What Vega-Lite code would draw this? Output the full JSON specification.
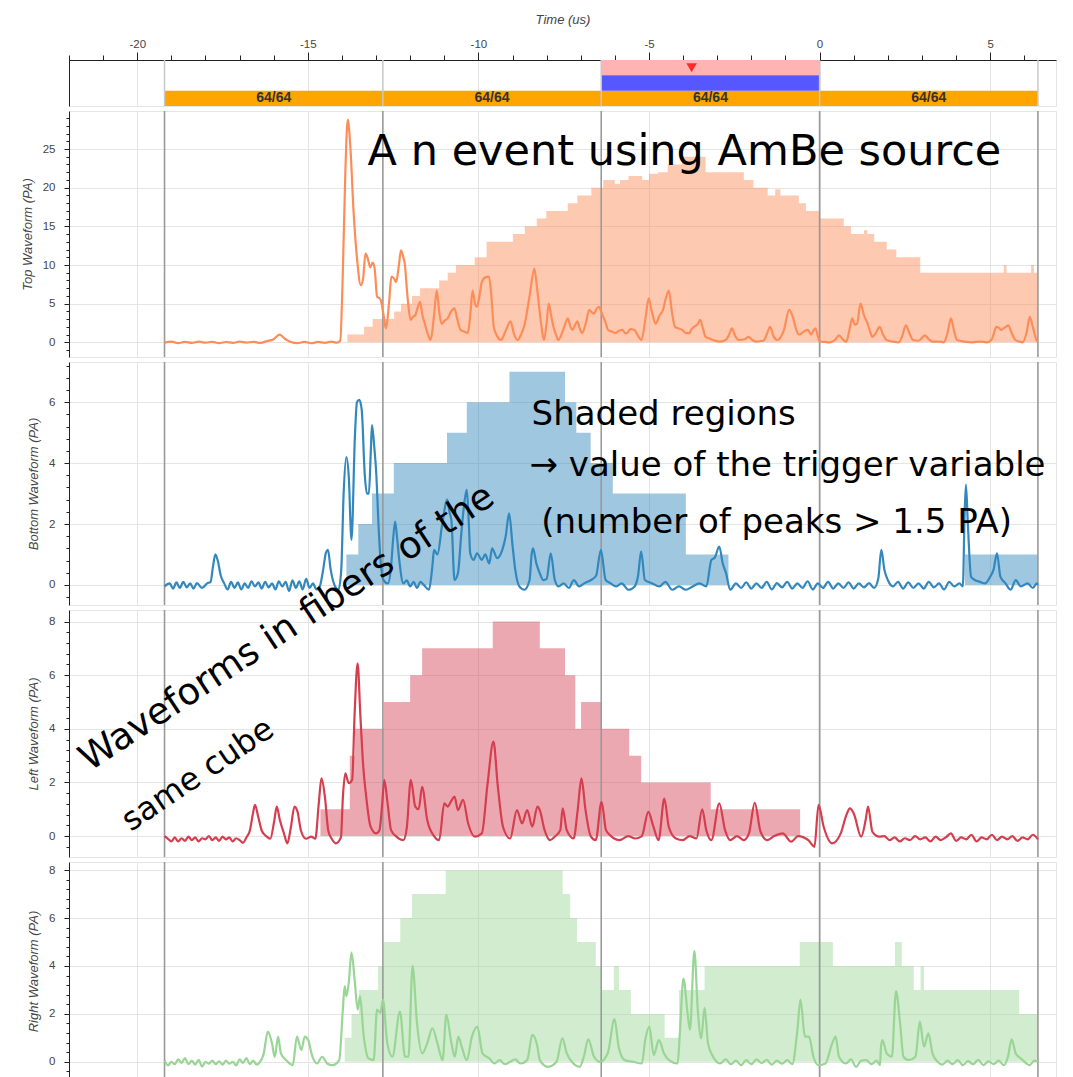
{
"$schema": "https://vega.github.io/schema/vega-lite/v6.json",
"padding": {"left": 20, "top": 12, "right": 0, "bottom": 0},
"background": "white",
"bounds": "flush",
"spacing": 5,
"config": {
  "view": {"stroke": "#e5e5e5"},
  "axis": {"labelFont": "Liberation Sans", "titleFont": "Liberation Sans", "labelColor": "#444", "titleColor": "#444", "labelFontSize": 11.5, "titleFontSize": 13, "titleFontStyle": "italic", "titleFontWeight": "normal", "domainColor": "#222", "tickColor": "#222", "gridColor": "#e5e5e5"}
},
"datasets": {
  "segs": [{"t0":-19.2,"t1":-12.8,"tm":-16.0,"lab":"64/64","row":"blocks"},{"t0":-12.8,"t1":-6.4,"tm":-9.6,"lab":"64/64","row":"blocks"},{"t0":-6.4,"t1":0,"tm":-3.2,"lab":"64/64","row":"blocks"},{"t0":0,"t1":6.4,"tm":3.2,"lab":"64/64","row":"blocks"}],
  "win": [{"t0":-6.4,"t1":0,"row":"trigger"},{"t0":-6.4,"t1":0,"row":"window"}],
  "trig": [{"t":-3.75,"row":"trigger"}],
  "bounds": [{"t":-19.2},{"t":-12.8},{"t":-6.4},{"t":0},{"t":6.4}],
  "sT": [{"t":-13.84,"n":1},{"t":-13.35,"n":2},{"t":-13.1,"n":3},{"t":-12.47,"n":4},{"t":-12.27,"n":5},{"t":-11.95,"n":6},{"t":-11.71,"n":7},{"t":-11.15,"n":8},{"t":-10.9,"n":9},{"t":-10.66,"n":10},{"t":-10.11,"n":11},{"t":-9.76,"n":13},{"t":-8.99,"n":14},{"t":-8.64,"n":15},{"t":-8.29,"n":16},{"t":-8.01,"n":17},{"t":-7.38,"n":18},{"t":-7.1,"n":19},{"t":-6.69,"n":20},{"t":-6.34,"n":21},{"t":-6.0,"n":20.5},{"t":-5.85,"n":21},{"t":-5.6,"n":21.5},{"t":-5.2,"n":21},{"t":-5.0,"n":21.8},{"t":-4.73,"n":22},{"t":-4.45,"n":23},{"t":-4.03,"n":24},{"t":-3.34,"n":22},{"t":-2.22,"n":21},{"t":-1.94,"n":20},{"t":-1.52,"n":19},{"t":-1.3,"n":19.8},{"t":-1.15,"n":19},{"t":-0.61,"n":18},{"t":-0.4,"n":17},{"t":0.01,"n":16},{"t":0.71,"n":15},{"t":0.92,"n":14},{"t":1.3,"n":14.5},{"t":1.4,"n":14},{"t":1.6,"n":13},{"t":1.97,"n":12},{"t":2.25,"n":11},{"t":2.95,"n":9},{"t":5.4,"n":10},{"t":5.48,"n":9},{"t":6.2,"n":10},{"t":6.28,"n":9},{"t":6.4,"n":9}],
  "sB": [{"t":-13.87,"n":1},{"t":-13.52,"n":2},{"t":-13.12,"n":3},{"t":-12.48,"n":4},{"t":-10.92,"n":5},{"t":-10.34,"n":6},{"t":-9.09,"n":7},{"t":-7.46,"n":6},{"t":-7.13,"n":5},{"t":-6.71,"n":4},{"t":-6.06,"n":3},{"t":-3.92,"n":1},{"t":-2.67,"n":0},{"t":4.26,"n":1},{"t":6.4,"n":1}],
  "sL": [{"t":-14.63,"n":1},{"t":-13.77,"n":3},{"t":-13.62,"n":4},{"t":-12.78,"n":5},{"t":-12.0,"n":6},{"t":-11.65,"n":7},{"t":-9.58,"n":8},{"t":-8.2,"n":7},{"t":-7.46,"n":6},{"t":-7.16,"n":4},{"t":-6.99,"n":5},{"t":-6.38,"n":4},{"t":-5.58,"n":3},{"t":-5.23,"n":2},{"t":-3.19,"n":1},{"t":-0.57,"n":0},{"t":6.4,"n":0}],
  "sR": [{"t":-13.92,"n":1},{"t":-13.72,"n":2},{"t":-13.5,"n":3},{"t":-12.94,"n":4},{"t":-12.78,"n":5},{"t":-12.29,"n":6},{"t":-11.95,"n":7},{"t":-10.96,"n":8},{"t":-7.53,"n":7},{"t":-7.31,"n":6},{"t":-7.11,"n":5},{"t":-6.56,"n":4},{"t":-6.38,"n":3},{"t":-6.03,"n":4},{"t":-5.88,"n":3},{"t":-5.53,"n":2},{"t":-4.54,"n":1},{"t":-4.12,"n":3},{"t":-3.37,"n":4},{"t":-0.58,"n":5},{"t":0.39,"n":4},{"t":2.21,"n":5},{"t":2.41,"n":4},{"t":2.76,"n":3},{"t":2.96,"n":4},{"t":3.06,"n":3},{"t":5.85,"n":2},{"t":6.4,"n":2}],
  "wT": [{"t":-19.2,"v":-0.05},{"t":-19.0,"v":0.08},{"t":-18.8,"v":-0.1},{"t":-18.6,"v":0.05},{"t":-18.4,"v":-0.08},{"t":-18.2,"v":0.1},{"t":-18.0,"v":-0.05},{"t":-17.8,"v":0.06},{"t":-17.6,"v":-0.1},{"t":-17.4,"v":0.04},{"t":-17.2,"v":-0.06},{"t":-17.0,"v":0.08},{"t":-16.8,"v":-0.04},{"t":-16.6,"v":0.06},{"t":-16.4,"v":-0.08},{"t":-16.2,"v":0.15},{"t":-16.0,"v":0.4},{"t":-15.83,"v":1.0},{"t":-15.65,"v":0.4},{"t":-15.5,"v":0.05},{"t":-15.3,"v":-0.1},{"t":-15.1,"v":0.06},{"t":-14.9,"v":-0.12},{"t":-14.7,"v":0.05},{"t":-14.5,"v":-0.06},{"t":-14.3,"v":0.1},{"t":-14.15,"v":-0.05},{"t":-14.05,"v":0.2},{"t":-13.98,"v":8},{"t":-13.9,"v":22},{"t":-13.83,"v":28.8},{"t":-13.75,"v":25},{"t":-13.66,"v":17},{"t":-13.55,"v":10.5},{"t":-13.45,"v":7.4},{"t":-13.38,"v":8.2},{"t":-13.31,"v":11.5},{"t":-13.24,"v":10.8},{"t":-13.17,"v":9.7},{"t":-13.1,"v":10.3},{"t":-13.04,"v":9.5},{"t":-12.97,"v":5.9},{"t":-12.9,"v":5.7},{"t":-12.85,"v":5.3},{"t":-12.78,"v":3.5},{"t":-12.71,"v":1.8},{"t":-12.62,"v":5},{"t":-12.55,"v":8.5},{"t":-12.48,"v":8.3},{"t":-12.41,"v":7.8},{"t":-12.33,"v":10},{"t":-12.27,"v":11.9},{"t":-12.2,"v":11},{"t":-12.16,"v":10.2},{"t":-12.08,"v":6},{"t":-11.99,"v":2.9},{"t":-11.92,"v":3.3},{"t":-11.85,"v":3.5},{"t":-11.78,"v":4.5},{"t":-11.71,"v":5.2},{"t":-11.64,"v":3.5},{"t":-11.57,"v":2.4},{"t":-11.48,"v":1.0},{"t":-11.4,"v":0.3},{"t":-11.3,"v":3.5},{"t":-11.22,"v":6.7},{"t":-11.15,"v":4},{"t":-11.08,"v":2.4},{"t":-10.99,"v":2.8},{"t":-10.9,"v":3.1},{"t":-10.8,"v":4},{"t":-10.7,"v":4.4},{"t":-10.62,"v":3},{"t":-10.52,"v":1.6},{"t":-10.42,"v":1.4},{"t":-10.31,"v":1.2},{"t":-10.24,"v":3.5},{"t":-10.17,"v":6.7},{"t":-10.1,"v":5},{"t":-10.04,"v":4.6},{"t":-9.97,"v":6},{"t":-9.9,"v":7.8},{"t":-9.8,"v":8.4},{"t":-9.69,"v":8.5},{"t":-9.62,"v":6},{"t":-9.55,"v":2.0},{"t":-9.45,"v":0.8},{"t":-9.34,"v":0.3},{"t":-9.2,"v":1.5},{"t":-9.06,"v":2.7},{"t":-8.95,"v":1},{"t":-8.85,"v":0.3},{"t":-8.75,"v":1},{"t":-8.64,"v":2.4},{"t":-8.5,"v":6},{"t":-8.36,"v":9.5},{"t":-8.28,"v":7},{"t":-8.22,"v":4.6},{"t":-8.15,"v":2},{"t":-8.08,"v":0.3},{"t":-8.0,"v":2.5},{"t":-7.94,"v":5.0},{"t":-7.87,"v":3.5},{"t":-7.8,"v":2.0},{"t":-7.72,"v":0.9},{"t":-7.66,"v":0.3},{"t":-7.5,"v":1.8},{"t":-7.38,"v":3.1},{"t":-7.3,"v":2},{"t":-7.24,"v":1.6},{"t":-7.17,"v":2.2},{"t":-7.1,"v":2.7},{"t":-7.03,"v":1.8},{"t":-6.96,"v":1.2},{"t":-6.85,"v":2.5},{"t":-6.75,"v":4.2},{"t":-6.68,"v":3.9},{"t":-6.61,"v":3.7},{"t":-6.54,"v":4.3},{"t":-6.47,"v":4.6},{"t":-6.4,"v":4},{"t":-6.34,"v":3.3},{"t":-6.27,"v":2.5},{"t":-6.2,"v":1.6},{"t":-6.1,"v":1.4},{"t":-5.99,"v":1.2},{"t":-5.88,"v":1.5},{"t":-5.78,"v":1.6},{"t":-5.7,"v":1.2},{"t":-5.64,"v":1.2},{"t":-5.55,"v":1.7},{"t":-5.43,"v":1.6},{"t":-5.33,"v":0.9},{"t":-5.22,"v":0.3},{"t":-5.1,"v":3.2},{"t":-5.01,"v":5.7},{"t":-4.92,"v":4},{"t":-4.8,"v":2.4},{"t":-4.7,"v":3.4},{"t":-4.59,"v":4.2},{"t":-4.5,"v":5.8},{"t":-4.42,"v":6.7},{"t":-4.33,"v":4},{"t":-4.24,"v":2.0},{"t":-4.13,"v":1.8},{"t":-4.03,"v":1.6},{"t":-3.92,"v":1.2},{"t":-3.82,"v":1.2},{"t":-3.75,"v":1.7},{"t":-3.68,"v":2.0},{"t":-3.58,"v":2.3},{"t":-3.5,"v":2.9},{"t":-3.42,"v":1.8},{"t":-3.34,"v":0.7},{"t":-3.23,"v":0.5},{"t":-3.13,"v":0.3},{"t":-2.92,"v":0.1},{"t":-2.75,"v":0.3},{"t":-2.65,"v":1.0},{"t":-2.57,"v":1.8},{"t":-2.47,"v":0.8},{"t":-2.36,"v":0.3},{"t":-2.2,"v":0.4},{"t":-2.08,"v":0.7},{"t":-1.97,"v":0.3},{"t":-1.87,"v":0.1},{"t":-1.65,"v":0.2},{"t":-1.55,"v":1.0},{"t":-1.45,"v":2.0},{"t":-1.35,"v":0.8},{"t":-1.24,"v":0.3},{"t":-1.05,"v":1.5},{"t":-0.89,"v":4.2},{"t":-0.8,"v":3.5},{"t":-0.68,"v":1.6},{"t":-0.6,"v":1.0},{"t":-0.52,"v":1.2},{"t":-0.43,"v":1.5},{"t":-0.34,"v":1.6},{"t":-0.25,"v":1.0},{"t":-0.18,"v":1.5},{"t":-0.12,"v":1.8},{"t":-0.05,"v":0.8},{"t":0.01,"v":0.1},{"t":0.15,"v":0.05},{"t":0.29,"v":0.0},{"t":0.45,"v":0.3},{"t":0.57,"v":0.9},{"t":0.68,"v":0.4},{"t":0.78,"v":0.05},{"t":0.87,"v":1.5},{"t":0.96,"v":3.1},{"t":1.03,"v":2.3},{"t":1.1,"v":2.4},{"t":1.2,"v":5.0},{"t":1.3,"v":3.5},{"t":1.41,"v":2.4},{"t":1.48,"v":1.4},{"t":1.55,"v":0.7},{"t":1.65,"v":1.2},{"t":1.76,"v":2.0},{"t":1.86,"v":1.0},{"t":1.97,"v":0.3},{"t":2.15,"v":0.1},{"t":2.32,"v":0.0},{"t":2.42,"v":0.8},{"t":2.53,"v":2.2},{"t":2.63,"v":1.2},{"t":2.74,"v":0.3},{"t":2.9,"v":0.2},{"t":3.09,"v":0.9},{"t":3.2,"v":0.4},{"t":3.3,"v":0.1},{"t":3.5,"v":0.1},{"t":3.64,"v":0.0},{"t":3.75,"v":1.2},{"t":3.85,"v":3.1},{"t":3.94,"v":1.5},{"t":4.03,"v":0.3},{"t":4.25,"v":0.1},{"t":4.48,"v":0.0},{"t":4.7,"v":0.1},{"t":4.9,"v":0.0},{"t":5.05,"v":0.4},{"t":5.11,"v":1.2},{"t":5.18,"v":2.0},{"t":5.25,"v":1.9},{"t":5.32,"v":1.6},{"t":5.39,"v":1.8},{"t":5.46,"v":2.0},{"t":5.53,"v":2.2},{"t":5.63,"v":1.2},{"t":5.74,"v":0.3},{"t":5.85,"v":0.1},{"t":5.95,"v":0.0},{"t":6.08,"v":1.5},{"t":6.16,"v":3.3},{"t":6.26,"v":1.8},{"t":6.37,"v":0.2},{"t":6.4,"v":0.1}],
  "wB": [{"t":-19.2,"v":-0.05},{"t":-19.05,"v":0.05},{"t":-18.95,"v":-0.12},{"t":-18.85,"v":0.08},{"t":-18.75,"v":-0.1},{"t":-18.65,"v":0.1},{"t":-18.55,"v":-0.08},{"t":-18.45,"v":0.05},{"t":-18.35,"v":-0.12},{"t":-18.25,"v":0.06},{"t":-18.1,"v":-0.1},{"t":-17.95,"v":0.05},{"t":-17.85,"v":0.1},{"t":-17.78,"v":0.6},{"t":-17.71,"v":1.0},{"t":-17.64,"v":0.8},{"t":-17.55,"v":0.3},{"t":-17.45,"v":0.05},{"t":-17.35,"v":-0.15},{"t":-17.25,"v":0.1},{"t":-17.15,"v":-0.1},{"t":-17.05,"v":0.08},{"t":-16.95,"v":-0.15},{"t":-16.85,"v":0.05},{"t":-16.75,"v":-0.1},{"t":-16.65,"v":0.12},{"t":-16.55,"v":-0.05},{"t":-16.45,"v":0.08},{"t":-16.35,"v":-0.12},{"t":-16.25,"v":0.1},{"t":-16.15,"v":-0.08},{"t":-16.05,"v":0.05},{"t":-15.95,"v":-0.15},{"t":-15.85,"v":0.12},{"t":-15.75,"v":-0.05},{"t":-15.65,"v":0.1},{"t":-15.55,"v":-0.2},{"t":-15.45,"v":0.15},{"t":-15.35,"v":-0.1},{"t":-15.25,"v":0.12},{"t":-15.15,"v":-0.15},{"t":-15.05,"v":0.2},{"t":-14.95,"v":-0.1},{"t":-14.85,"v":0.05},{"t":-14.75,"v":-0.15},{"t":-14.65,"v":-0.05},{"t":-14.55,"v":0.5},{"t":-14.47,"v":1.05},{"t":-14.41,"v":1.15},{"t":-14.33,"v":0.5},{"t":-14.2,"v":-0.05},{"t":-14.1,"v":-0.16},{"t":-14.02,"v":0.5},{"t":-13.95,"v":3.0},{"t":-13.87,"v":4.2},{"t":-13.8,"v":3.56},{"t":-13.72,"v":1.48},{"t":-13.62,"v":4.87},{"t":-13.56,"v":6.0},{"t":-13.49,"v":6.08},{"t":-13.42,"v":5.75},{"t":-13.33,"v":3.6},{"t":-13.27,"v":3.0},{"t":-13.21,"v":3.0},{"t":-13.15,"v":4.5},{"t":-13.12,"v":5.25},{"t":-13.05,"v":4.5},{"t":-13.0,"v":3.78},{"t":-12.92,"v":1.8},{"t":-12.87,"v":0.82},{"t":-12.78,"v":0.16},{"t":-12.65,"v":0.05},{"t":-12.56,"v":0.6},{"t":-12.5,"v":1.5},{"t":-12.44,"v":2.08},{"t":-12.38,"v":1.5},{"t":-12.32,"v":0.82},{"t":-12.2,"v":0.05},{"t":-12.1,"v":0.15},{"t":-12.0,"v":-0.05},{"t":-11.9,"v":0.1},{"t":-11.8,"v":-0.1},{"t":-11.7,"v":0.1},{"t":-11.6,"v":0.0},{"t":-11.45,"v":-0.16},{"t":-11.35,"v":0.6},{"t":-11.3,"v":1.15},{"t":-11.2,"v":1.0},{"t":-11.06,"v":2.0},{"t":-10.91,"v":2.8},{"t":-10.85,"v":2.4},{"t":-10.79,"v":2.1},{"t":-10.7,"v":0.16},{"t":-10.6,"v":0.38},{"t":-10.5,"v":1.7},{"t":-10.4,"v":2.8},{"t":-10.34,"v":3.12},{"t":-10.28,"v":2.0},{"t":-10.24,"v":1.04},{"t":-10.14,"v":0.82},{"t":-10.04,"v":1.04},{"t":-9.9,"v":0.82},{"t":-9.8,"v":1.0},{"t":-9.68,"v":0.7},{"t":-9.6,"v":1.2},{"t":-9.45,"v":0.88},{"t":-9.3,"v":1.15},{"t":-9.2,"v":1.6},{"t":-9.1,"v":2.35},{"t":-9.0,"v":1.3},{"t":-8.92,"v":0.5},{"t":-8.8,"v":-0.05},{"t":-8.65,"v":-0.16},{"t":-8.5,"v":0.16},{"t":-8.44,"v":1.0},{"t":-8.4,"v":1.2},{"t":-8.3,"v":0.7},{"t":-8.2,"v":0.38},{"t":-8.1,"v":0.16},{"t":-8.0,"v":0.2},{"t":-7.88,"v":1.04},{"t":-7.76,"v":0.16},{"t":-7.65,"v":-0.05},{"t":-7.5,"v":0.05},{"t":-7.35,"v":-0.1},{"t":-7.2,"v":0.16},{"t":-7.05,"v":-0.05},{"t":-6.9,"v":0.05},{"t":-6.7,"v":0.16},{"t":-6.55,"v":0.3},{"t":-6.41,"v":1.15},{"t":-6.27,"v":0.16},{"t":-6.12,"v":0.05},{"t":-5.96,"v":-0.05},{"t":-5.8,"v":0.05},{"t":-5.6,"v":-0.16},{"t":-5.42,"v":-0.05},{"t":-5.32,"v":0.3},{"t":-5.23,"v":1.1},{"t":-5.12,"v":0.16},{"t":-4.9,"v":0.05},{"t":-4.7,"v":-0.05},{"t":-4.52,"v":0.1},{"t":-4.32,"v":-0.16},{"t":-4.12,"v":-0.05},{"t":-3.92,"v":-0.16},{"t":-3.72,"v":-0.05},{"t":-3.52,"v":0.05},{"t":-3.32,"v":-0.05},{"t":-3.17,"v":0.82},{"t":-3.07,"v":0.9},{"t":-2.94,"v":1.26},{"t":-2.84,"v":0.71},{"t":-2.74,"v":0.38},{"t":-2.62,"v":-0.16},{"t":-2.45,"v":0.05},{"t":-2.3,"v":-0.1},{"t":-2.15,"v":0.08},{"t":-2.0,"v":-0.12},{"t":-1.85,"v":0.05},{"t":-1.7,"v":-0.1},{"t":-1.55,"v":0.1},{"t":-1.4,"v":-0.15},{"t":-1.25,"v":0.06},{"t":-1.1,"v":-0.08},{"t":-0.95,"v":0.1},{"t":-0.8,"v":-0.12},{"t":-0.65,"v":0.05},{"t":-0.5,"v":-0.1},{"t":-0.35,"v":0.12},{"t":-0.2,"v":-0.15},{"t":-0.05,"v":0.05},{"t":0.1,"v":-0.1},{"t":0.25,"v":0.1},{"t":0.4,"v":-0.12},{"t":0.55,"v":0.05},{"t":0.7,"v":-0.1},{"t":0.85,"v":0.08},{"t":1.0,"v":-0.12},{"t":1.15,"v":0.05},{"t":1.3,"v":-0.08},{"t":1.45,"v":0.06},{"t":1.6,"v":-0.1},{"t":1.72,"v":0.2},{"t":1.81,"v":1.15},{"t":1.9,"v":0.5},{"t":2.0,"v":0.16},{"t":2.15,"v":-0.05},{"t":2.3,"v":0.1},{"t":2.45,"v":-0.12},{"t":2.6,"v":0.08},{"t":2.75,"v":-0.1},{"t":2.9,"v":0.05},{"t":3.05,"v":-0.12},{"t":3.2,"v":0.1},{"t":3.35,"v":-0.08},{"t":3.5,"v":0.05},{"t":3.65,"v":-0.15},{"t":3.8,"v":0.1},{"t":3.95,"v":-0.05},{"t":4.1,"v":0.05},{"t":4.2,"v":-0.05},{"t":4.25,"v":2.25},{"t":4.29,"v":3.29},{"t":4.35,"v":1.9},{"t":4.44,"v":0.27},{"t":4.55,"v":0.16},{"t":4.7,"v":0.1},{"t":4.85,"v":0.05},{"t":5.0,"v":0.27},{"t":5.1,"v":0.5},{"t":5.2,"v":1.04},{"t":5.3,"v":0.27},{"t":5.45,"v":0.05},{"t":5.6,"v":-0.16},{"t":5.75,"v":0.16},{"t":5.9,"v":-0.05},{"t":6.1,"v":0.05},{"t":6.25,"v":-0.1},{"t":6.37,"v":0.05},{"t":6.4,"v":0.0}],
  "wL": [{"t":-19.2,"v":0.0},{"t":-19.1,"v":-0.1},{"t":-19.0,"v":-0.2},{"t":-18.9,"v":-0.05},{"t":-18.8,"v":-0.2},{"t":-18.7,"v":-0.08},{"t":-18.6,"v":-0.18},{"t":-18.5,"v":-0.02},{"t":-18.4,"v":-0.15},{"t":-18.3,"v":-0.05},{"t":-18.2,"v":-0.2},{"t":-18.1,"v":-0.08},{"t":-18.0,"v":-0.12},{"t":-17.9,"v":0.0},{"t":-17.8,"v":-0.15},{"t":-17.7,"v":-0.05},{"t":-17.6,"v":-0.18},{"t":-17.5,"v":-0.02},{"t":-17.4,"v":-0.12},{"t":-17.3,"v":-0.05},{"t":-17.2,"v":-0.2},{"t":-17.1,"v":-0.08},{"t":-17.0,"v":-0.15},{"t":-16.9,"v":-0.25},{"t":-16.8,"v":-0.05},{"t":-16.7,"v":0.2},{"t":-16.6,"v":0.9},{"t":-16.55,"v":1.16},{"t":-16.45,"v":0.7},{"t":-16.35,"v":0.2},{"t":-16.2,"v":-0.02},{"t":-16.1,"v":-0.1},{"t":-15.98,"v":0.6},{"t":-15.91,"v":1.1},{"t":-15.82,"v":0.6},{"t":-15.7,"v":0.1},{"t":-15.6,"v":-0.27},{"t":-15.5,"v":0.3},{"t":-15.39,"v":1.1},{"t":-15.3,"v":0.9},{"t":-15.2,"v":0.2},{"t":-15.05,"v":-0.1},{"t":-14.9,"v":-0.02},{"t":-14.78,"v":-0.1},{"t":-14.68,"v":1.2},{"t":-14.6,"v":2.15},{"t":-14.5,"v":1.47},{"t":-14.4,"v":0.2},{"t":-14.3,"v":-0.1},{"t":-14.18,"v":-0.27},{"t":-14.03,"v":-0.05},{"t":-13.97,"v":1.5},{"t":-13.9,"v":2.34},{"t":-13.8,"v":1.97},{"t":-13.7,"v":2.1},{"t":-13.63,"v":4.5},{"t":-13.54,"v":6.44},{"t":-13.46,"v":4.5},{"t":-13.37,"v":2.5},{"t":-13.3,"v":1.6},{"t":-13.16,"v":0.35},{"t":-13.0,"v":0.1},{"t":-12.9,"v":0.22},{"t":-12.82,"v":1.2},{"t":-12.76,"v":2.1},{"t":-12.66,"v":1.2},{"t":-12.56,"v":0.22},{"t":-12.4,"v":-0.02},{"t":-12.2,"v":-0.15},{"t":-12.1,"v":0.3},{"t":-11.98,"v":2.1},{"t":-11.85,"v":1.1},{"t":-11.75,"v":1.0},{"t":-11.65,"v":1.84},{"t":-11.5,"v":0.6},{"t":-11.3,"v":0.0},{"t":-11.15,"v":-0.15},{"t":-11.0,"v":1.22},{"t":-10.9,"v":1.1},{"t":-10.8,"v":1.3},{"t":-10.7,"v":1.47},{"t":-10.6,"v":0.97},{"t":-10.45,"v":1.35},{"t":-10.3,"v":0.47},{"t":-10.1,"v":-0.02},{"t":-9.9,"v":0.1},{"t":-9.73,"v":1.97},{"t":-9.56,"v":3.52},{"t":-9.43,"v":1.84},{"t":-9.28,"v":0.35},{"t":-9.07,"v":-0.09},{"t":-8.87,"v":0.97},{"t":-8.72,"v":0.47},{"t":-8.57,"v":0.97},{"t":-8.42,"v":0.35},{"t":-8.27,"v":1.1},{"t":-8.2,"v":0.97},{"t":-8.06,"v":0.22},{"t":-7.9,"v":-0.15},{"t":-7.76,"v":-0.02},{"t":-7.6,"v":0.22},{"t":-7.53,"v":1.03},{"t":-7.41,"v":0.22},{"t":-7.21,"v":-0.09},{"t":-7.09,"v":0.97},{"t":-6.98,"v":2.15},{"t":-6.86,"v":0.97},{"t":-6.71,"v":0.0},{"t":-6.56,"v":-0.15},{"t":-6.39,"v":1.28},{"t":-6.26,"v":0.22},{"t":-6.11,"v":0.0},{"t":-5.86,"v":-0.15},{"t":-5.61,"v":0.0},{"t":-5.41,"v":-0.09},{"t":-5.21,"v":0.0},{"t":-5.02,"v":0.9},{"t":-4.87,"v":0.35},{"t":-4.72,"v":-0.15},{"t":-4.55,"v":1.4},{"t":-4.42,"v":0.35},{"t":-4.21,"v":-0.09},{"t":-4.01,"v":-0.15},{"t":-3.81,"v":0.0},{"t":-3.61,"v":-0.09},{"t":-3.44,"v":1.0},{"t":-3.32,"v":0.22},{"t":-3.17,"v":-0.15},{"t":-2.94,"v":1.22},{"t":-2.77,"v":0.22},{"t":-2.62,"v":-0.15},{"t":-2.42,"v":0.0},{"t":-2.22,"v":-0.15},{"t":-2.07,"v":0.1},{"t":-1.9,"v":1.24},{"t":-1.73,"v":0.16},{"t":-1.53,"v":-0.15},{"t":-1.33,"v":0.0},{"t":-1.08,"v":0.1},{"t":-0.83,"v":-0.21},{"t":-0.63,"v":0.0},{"t":-0.33,"v":-0.15},{"t":-0.15,"v":-0.4},{"t":-0.03,"v":1.16},{"t":0.12,"v":0.35},{"t":0.37,"v":-0.27},{"t":0.62,"v":0.1},{"t":0.79,"v":0.8},{"t":0.89,"v":1.03},{"t":1.0,"v":0.85},{"t":1.22,"v":-0.02},{"t":1.35,"v":0.6},{"t":1.42,"v":1.1},{"t":1.55,"v":0.16},{"t":1.75,"v":-0.02},{"t":1.9,"v":0.0},{"t":2.05,"v":-0.15},{"t":2.2,"v":-0.05},{"t":2.35,"v":-0.2},{"t":2.5,"v":-0.08},{"t":2.65,"v":-0.15},{"t":2.8,"v":0.0},{"t":2.95,"v":-0.12},{"t":3.1,"v":-0.05},{"t":3.25,"v":-0.2},{"t":3.4,"v":-0.02},{"t":3.55,"v":-0.15},{"t":3.7,"v":-0.05},{"t":3.85,"v":0.1},{"t":4.0,"v":-0.18},{"t":4.15,"v":-0.05},{"t":4.3,"v":-0.12},{"t":4.45,"v":0.05},{"t":4.6,"v":-0.2},{"t":4.75,"v":-0.05},{"t":4.9,"v":-0.12},{"t":5.05,"v":0.05},{"t":5.2,"v":-0.15},{"t":5.35,"v":-0.02},{"t":5.5,"v":-0.12},{"t":5.65,"v":0.0},{"t":5.8,"v":-0.18},{"t":5.95,"v":-0.05},{"t":6.1,"v":-0.12},{"t":6.25,"v":0.05},{"t":6.4,"v":-0.12}],
  "wR": [{"t":-19.2,"v":0.05},{"t":-19.1,"v":-0.15},{"t":-19.0,"v":0.0},{"t":-18.9,"v":-0.1},{"t":-18.8,"v":0.1},{"t":-18.7,"v":-0.05},{"t":-18.6,"v":0.15},{"t":-18.5,"v":-0.1},{"t":-18.4,"v":0.05},{"t":-18.3,"v":-0.12},{"t":-18.2,"v":0.08},{"t":-18.1,"v":-0.2},{"t":-18.0,"v":0.0},{"t":-17.9,"v":-0.08},{"t":-17.8,"v":0.05},{"t":-17.7,"v":-0.1},{"t":-17.6,"v":0.02},{"t":-17.5,"v":-0.12},{"t":-17.4,"v":0.05},{"t":-17.3,"v":-0.08},{"t":-17.2,"v":0.0},{"t":-17.1,"v":-0.15},{"t":-17.0,"v":0.1},{"t":-16.9,"v":-0.05},{"t":-16.8,"v":0.15},{"t":-16.7,"v":-0.1},{"t":-16.6,"v":0.05},{"t":-16.5,"v":-0.12},{"t":-16.4,"v":0.0},{"t":-16.3,"v":0.3},{"t":-16.17,"v":1.26},{"t":-16.05,"v":0.77},{"t":-15.97,"v":0.2},{"t":-15.87,"v":1.05},{"t":-15.79,"v":0.35},{"t":-15.64,"v":0.07},{"t":-15.44,"v":-0.14},{"t":-15.32,"v":1.05},{"t":-15.19,"v":0.49},{"t":-15.09,"v":1.05},{"t":-14.99,"v":0.91},{"t":-14.88,"v":0.28},{"t":-14.73,"v":-0.07},{"t":-14.58,"v":0.21},{"t":-14.43,"v":-0.07},{"t":-14.28,"v":-0.14},{"t":-14.08,"v":0.07},{"t":-13.97,"v":2.25},{"t":-13.92,"v":3.16},{"t":-13.87,"v":2.74},{"t":-13.8,"v":3.3},{"t":-13.72,"v":4.56},{"t":-13.62,"v":3.3},{"t":-13.54,"v":2.18},{"t":-13.47,"v":2.74},{"t":-13.37,"v":1.19},{"t":-13.22,"v":0.14},{"t":-13.07,"v":0.07},{"t":-12.97,"v":2.18},{"t":-12.87,"v":2.04},{"t":-12.8,"v":2.6},{"t":-12.67,"v":0.77},{"t":-12.52,"v":0.21},{"t":-12.3,"v":2.1},{"t":-12.15,"v":0.21},{"t":-12.05,"v":0.21},{"t":-11.93,"v":4.0},{"t":-11.8,"v":1.61},{"t":-11.65,"v":0.35},{"t":-11.5,"v":0.77},{"t":-11.35,"v":1.4},{"t":-11.2,"v":0.77},{"t":-11.05,"v":0.07},{"t":-10.94,"v":1.96},{"t":-10.79,"v":0.77},{"t":-10.69,"v":0.21},{"t":-10.59,"v":1.05},{"t":-10.49,"v":0.63},{"t":-10.34,"v":0.07},{"t":-10.19,"v":1.05},{"t":-10.03,"v":1.47},{"t":-9.88,"v":0.35},{"t":-9.68,"v":0.14},{"t":-9.53,"v":-0.07},{"t":-9.38,"v":0.07},{"t":-9.22,"v":-0.1},{"t":-9.07,"v":0.0},{"t":-8.92,"v":0.1},{"t":-8.77,"v":-0.07},{"t":-8.57,"v":0.07},{"t":-8.42,"v":1.12},{"t":-8.27,"v":0.63},{"t":-8.2,"v":0.07},{"t":-7.96,"v":-0.21},{"t":-7.71,"v":0.0},{"t":-7.54,"v":0.98},{"t":-7.41,"v":0.35},{"t":-7.26,"v":0.0},{"t":-7.03,"v":-0.21},{"t":-6.91,"v":0.21},{"t":-6.78,"v":0.94},{"t":-6.61,"v":0.21},{"t":-6.43,"v":0.0},{"t":-6.21,"v":0.35},{"t":-6.01,"v":1.78},{"t":-5.89,"v":0.63},{"t":-5.71,"v":0.07},{"t":-5.46,"v":0.0},{"t":-5.21,"v":-0.07},{"t":-5.11,"v":0.91},{"t":-4.99,"v":1.47},{"t":-4.86,"v":0.28},{"t":-4.71,"v":0.91},{"t":-4.56,"v":0.35},{"t":-4.41,"v":0.07},{"t":-4.16,"v":-0.07},{"t":-4.09,"v":1.33},{"t":-3.99,"v":3.47},{"t":-3.87,"v":2.04},{"t":-3.8,"v":1.33},{"t":-3.67,"v":4.63},{"t":-3.57,"v":2.18},{"t":-3.47,"v":0.98},{"t":-3.37,"v":2.25},{"t":-3.27,"v":0.77},{"t":-3.12,"v":0.21},{"t":-2.92,"v":-0.07},{"t":-2.75,"v":0.1},{"t":-2.6,"v":-0.1},{"t":-2.45,"v":0.05},{"t":-2.3,"v":-0.14},{"t":-2.15,"v":0.07},{"t":-2.0,"v":-0.1},{"t":-1.85,"v":0.1},{"t":-1.7,"v":-0.05},{"t":-1.55,"v":0.08},{"t":-1.4,"v":-0.12},{"t":-1.25,"v":0.05},{"t":-1.1,"v":-0.08},{"t":-0.95,"v":0.07},{"t":-0.8,"v":-0.1},{"t":-0.65,"v":1.33},{"t":-0.56,"v":2.6},{"t":-0.43,"v":1.05},{"t":-0.31,"v":1.05},{"t":-0.18,"v":0.21},{"t":-0.03,"v":-0.14},{"t":0.17,"v":-0.07},{"t":0.37,"v":0.77},{"t":0.47,"v":1.05},{"t":0.57,"v":0.21},{"t":0.77,"v":-0.07},{"t":0.92,"v":0.1},{"t":1.07,"v":-0.21},{"t":1.22,"v":0.05},{"t":1.37,"v":0.07},{"t":1.52,"v":-0.1},{"t":1.67,"v":0.05},{"t":1.77,"v":-0.14},{"t":1.8,"v":0.63},{"t":1.84,"v":0.91},{"t":1.97,"v":0.35},{"t":2.12,"v":0.21},{"t":2.24,"v":2.95},{"t":2.36,"v":1.61},{"t":2.46,"v":0.21},{"t":2.61,"v":0.07},{"t":2.81,"v":0.21},{"t":2.94,"v":1.68},{"t":3.06,"v":0.63},{"t":3.19,"v":1.19},{"t":3.31,"v":0.35},{"t":3.46,"v":0.0},{"t":3.6,"v":-0.12},{"t":3.75,"v":0.05},{"t":3.9,"v":-0.1},{"t":4.05,"v":0.07},{"t":4.2,"v":-0.14},{"t":4.35,"v":0.03},{"t":4.5,"v":-0.1},{"t":4.65,"v":0.08},{"t":4.8,"v":-0.14},{"t":4.95,"v":0.02},{"t":5.1,"v":-0.1},{"t":5.25,"v":0.05},{"t":5.4,"v":-0.14},{"t":5.52,"v":0.2},{"t":5.63,"v":0.94},{"t":5.75,"v":0.35},{"t":5.9,"v":0.14},{"t":6.05,"v":-0.05},{"t":6.15,"v":-0.14},{"t":6.3,"v":0.05},{"t":6.4,"v":0.0}],
  "aT": [{"t":-3.96,"v":22.94,"lab":"A n event using AmBe source"}],
  "aB": [{"t":-8.44,"v":5.25,"lab":"Shaded regions"},{"t":-8.5,"v":3.56,"lab":"→ value of the trigger variable"},{"t":-8.16,"v":1.72,"lab":"(number of peaks > 1.5 PA)"}],
  "aL1": [{"t":-21.4,"v":2.39,"lab":"Waveforms in fibers of the"}],
  "aL2": [{"t":-20.19,"v":0.15,"lab":"same cube"}]
},
"vconcat": [
  {
    "width": 987, "height": 46,
    "resolve": {"axis": {"x": "independent"}},
    "layer": [
      {"data": {"name": "segs"}, "mark": {"type": "bar", "color": "#ffa500"},
       "encoding": {
         "x": {"field": "t0", "type": "quantitative", "scale": {"domain": [-22, 6.93], "nice": false, "zero": false},
               "axis": {"orient": "top", "title": "Time (us)", "values": [-20,-15,-10,-5,0,5], "tickSize": 8, "labelExpr": "toString(datum.value)",
                        "grid": true, "labelPadding": 3, "titlePadding": 12, "labelFlush": false}},
         "x2": {"field": "t1"},
         "y": {"field": "row", "type": "nominal", "scale": {"domain": ["trigger", "window", "blocks"], "paddingInner": 0, "paddingOuter": 0},
               "axis": {"labels": false, "ticks": false, "title": null, "grid": false, "domain": true}}
       }},
      {"data": {"name": "win"}, "mark": {"type": "bar"},
       "encoding": {
         "x": {"field": "t0", "type": "quantitative",
               "axis": {"orient": "top", "title": null, "values": [-22,-21,-20,-19,-18,-17,-16,-15,-14,-13,-12,-11,-10,-9,-8,-7,-6,-5,-4,-3,-2,-1,0,1,2,3,4,5,6], "labels": false, "tickSize": 5, "grid": false, "domain": false}},
         "x2": {"field": "t1"},
         "y": {"field": "row", "type": "nominal"},
         "color": {"field": "row", "type": "nominal", "scale": {"domain": ["trigger", "window"], "range": ["#ffb3b3", "#5757ff"]}, "legend": null}
       }},
      {"data": {"name": "bounds"}, "mark": {"type": "rule", "color": "#c8c8c8", "strokeWidth": 1.5},
       "encoding": {"x": {"field": "t", "type": "quantitative", "axis": null}}},
      {"data": {"name": "segs"}, "mark": {"type": "text", "font": "Liberation Sans", "fontWeight": "bold", "fontSize": 14, "color": "#333"},
       "encoding": {"x": {"field": "tm", "type": "quantitative", "axis": null}, "y": {"field": "row", "type": "nominal"}, "text": {"field": "lab"}}},
      {"data": {"name": "trig"}, "mark": {"type": "point", "shape": "triangle-down", "filled": true, "color": "#ff2a2a", "opacity": 1, "size": 110},
       "encoding": {"x": {"field": "t", "type": "quantitative", "axis": null}, "y": {"field": "row", "type": "nominal"}}}
    ]
  },
  {
    "width": 987, "height": 246,
    "resolve": {"axis": {"y": "independent"}},
    "layer": [
      {"data": {"name": "sT"}, "mark": {"type": "area", "interpolate": "step-after", "color": "#fc8d59", "opacity": 0.47},
       "encoding": {
         "x": {"field": "t", "type": "quantitative", "scale": {"domain": [-22, 6.93], "nice": false, "zero": false},
               "axis": {"values": [-20,-15,-10,-5,0,5], "labels": false, "ticks": false, "domain": false, "title": null, "grid": true}},
         "y": {"field": "n", "type": "quantitative", "scale": {"domain": [-1.9, 29.92], "nice": false, "zero": false},
               "axis": {"orient": "left", "title": "Top Waveform (PA)", "values": [0,5,10,15,20,25], "tickSize": 5,
                        "grid": true, "labelPadding": 9, "titlePadding": 8}},
         "y2": {"datum": 0}
       }},
      {"data": {"name": "bounds"}, "mark": {"type": "rule", "color": "#999", "strokeWidth": 1.6}, "encoding": {"x": {"field": "t", "type": "quantitative"}}},
      {"data": {"name": "wT"}, "mark": {"type": "line", "color": "#fc8d59", "strokeWidth": 2.2, "interpolate": "monotone"},
       "encoding": {"x": {"field": "t", "type": "quantitative"},
                    "y": {"field": "v", "type": "quantitative", "axis": {"orient": "left", "title": null, "labels": false, "grid": false, "domain": false, "tickSize": 3, "values": [-1,0,1,2,3,4,5,6,7,8,9,10,11,12,13,14,15,16,17,18,19,20,21,22,23,24,25,26,27,28,29]}}}},
      {"data": {"name": "aT"}, "mark": {"type": "text", "font": "DejaVu Sans", "fontSize": 43, "align": "center", "baseline": "alphabetic", "color": "#000"},
       "encoding": {"x": {"field": "t", "type": "quantitative"}, "y": {"field": "v", "type": "quantitative", "axis": null}, "text": {"field": "lab"}}}
    ]
  },
  {
    "width": 987, "height": 243,
    "resolve": {"axis": {"y": "independent"}},
    "layer": [
      {"data": {"name": "sB"}, "mark": {"type": "area", "interpolate": "step-after", "color": "#3288bd", "opacity": 0.47},
       "encoding": {
         "x": {"field": "t", "type": "quantitative", "scale": {"domain": [-22, 6.93], "nice": false, "zero": false},
               "axis": {"values": [-20,-15,-10,-5,0,5], "labels": false, "ticks": false, "domain": false, "title": null, "grid": true}},
         "y": {"field": "n", "type": "quantitative", "scale": {"domain": [-0.66, 7.32], "nice": false, "zero": false},
               "axis": {"orient": "left", "title": "Bottom Waveform (PA)", "values": [0,2,4,6], "tickSize": 5,
                        "grid": true, "labelPadding": 9, "titlePadding": 8}},
         "y2": {"datum": 0}
       }},
      {"data": {"name": "bounds"}, "mark": {"type": "rule", "color": "#999", "strokeWidth": 1.6}, "encoding": {"x": {"field": "t", "type": "quantitative"}}},
      {"data": {"name": "wB"}, "mark": {"type": "line", "color": "#3288bd", "strokeWidth": 2.2, "interpolate": "monotone"},
       "encoding": {"x": {"field": "t", "type": "quantitative"},
                    "y": {"field": "v", "type": "quantitative", "axis": {"orient": "left", "title": null, "labels": false, "grid": false, "domain": false, "tickSize": 3, "values": [-0.4,0,0.4,0.8,1.2,1.6,2,2.4,2.8,3.2,3.6,4,4.4,4.8,5.2,5.6,6,6.4,6.8,7.2]}}}},
      {"data": {"name": "aB"}, "mark": {"type": "text", "font": "DejaVu Sans", "fontSize": 34, "align": "left", "baseline": "alphabetic", "color": "#000"},
       "encoding": {"x": {"field": "t", "type": "quantitative"}, "y": {"field": "v", "type": "quantitative", "axis": null}, "text": {"field": "lab"}}}
    ]
  },
  {
    "width": 987, "height": 247,
    "resolve": {"axis": {"y": "independent"}},
    "layer": [
      {"data": {"name": "sL"}, "mark": {"type": "area", "interpolate": "step-after", "color": "#d53e4f", "opacity": 0.45},
       "encoding": {
         "x": {"field": "t", "type": "quantitative", "scale": {"domain": [-22, 6.93], "nice": false, "zero": false},
               "axis": {"values": [-20,-15,-10,-5,0,5], "labels": false, "ticks": false, "domain": false, "title": null, "grid": true}},
         "y": {"field": "n", "type": "quantitative", "scale": {"domain": [-0.78, 8.43], "nice": false, "zero": false},
               "axis": {"orient": "left", "title": "Left Waveform (PA)", "values": [0,2,4,6,8], "tickSize": 5,
                        "grid": true, "labelPadding": 9, "titlePadding": 8}},
         "y2": {"datum": 0}
       }},
      {"data": {"name": "bounds"}, "mark": {"type": "rule", "color": "#999", "strokeWidth": 1.6}, "encoding": {"x": {"field": "t", "type": "quantitative"}}},
      {"data": {"name": "wL"}, "mark": {"type": "line", "color": "#d53e4f", "strokeWidth": 2.2, "interpolate": "monotone"},
       "encoding": {"x": {"field": "t", "type": "quantitative"},
                    "y": {"field": "v", "type": "quantitative", "axis": {"orient": "left", "title": null, "labels": false, "grid": false, "domain": false, "tickSize": 3, "values": [-0.4,0,0.4,0.8,1.2,1.6,2,2.4,2.8,3.2,3.6,4,4.4,4.8,5.2,5.6,6,6.4,6.8,7.2,7.6,8]}}}},
      {"data": {"name": "aL1"}, "mark": {"type": "text", "font": "DejaVu Sans", "fontSize": 37, "align": "left", "baseline": "alphabetic", "angle": 326.5, "color": "#000"},
       "encoding": {"x": {"field": "t", "type": "quantitative"}, "y": {"field": "v", "type": "quantitative", "axis": null}, "text": {"field": "lab"}}},
      {"data": {"name": "aL2"}, "mark": {"type": "text", "font": "DejaVu Sans", "fontSize": 32, "align": "left", "baseline": "alphabetic", "angle": 326, "color": "#000"},
       "encoding": {"x": {"field": "t", "type": "quantitative"}, "y": {"field": "v", "type": "quantitative", "axis": null}, "text": {"field": "lab"}}}
    ]
  },
  {
    "width": 987, "height": 218,
    "resolve": {"axis": {"y": "independent"}},
    "layer": [
      {"data": {"name": "sR"}, "mark": {"type": "area", "interpolate": "step-after", "color": "#99d594", "opacity": 0.45},
       "encoding": {
         "x": {"field": "t", "type": "quantitative", "scale": {"domain": [-22, 6.93], "nice": false, "zero": false},
               "axis": {"values": [-20,-15,-10,-5,0,5], "labels": false, "ticks": false, "domain": false, "title": null, "grid": true}},
         "y": {"field": "n", "type": "quantitative", "scale": {"domain": [-0.76, 8.34], "nice": false, "zero": false},
               "axis": {"orient": "left", "title": "Right Waveform (PA)", "values": [0,2,4,6,8], "tickSize": 5,
                        "grid": true, "labelPadding": 9, "titlePadding": 8}},
         "y2": {"datum": 0}
       }},
      {"data": {"name": "bounds"}, "mark": {"type": "rule", "color": "#999", "strokeWidth": 1.6}, "encoding": {"x": {"field": "t", "type": "quantitative"}}},
      {"data": {"name": "wR"}, "mark": {"type": "line", "color": "#99d594", "strokeWidth": 2.2, "interpolate": "monotone"},
       "encoding": {"x": {"field": "t", "type": "quantitative"},
                    "y": {"field": "v", "type": "quantitative", "axis": {"orient": "left", "title": null, "labels": false, "grid": false, "domain": false, "tickSize": 3, "values": [-0.4,0,0.4,0.8,1.2,1.6,2,2.4,2.8,3.2,3.6,4,4.4,4.8,5.2,5.6,6,6.4,6.8,7.2,7.6,8]}}}}
    ]
  }
]
}
